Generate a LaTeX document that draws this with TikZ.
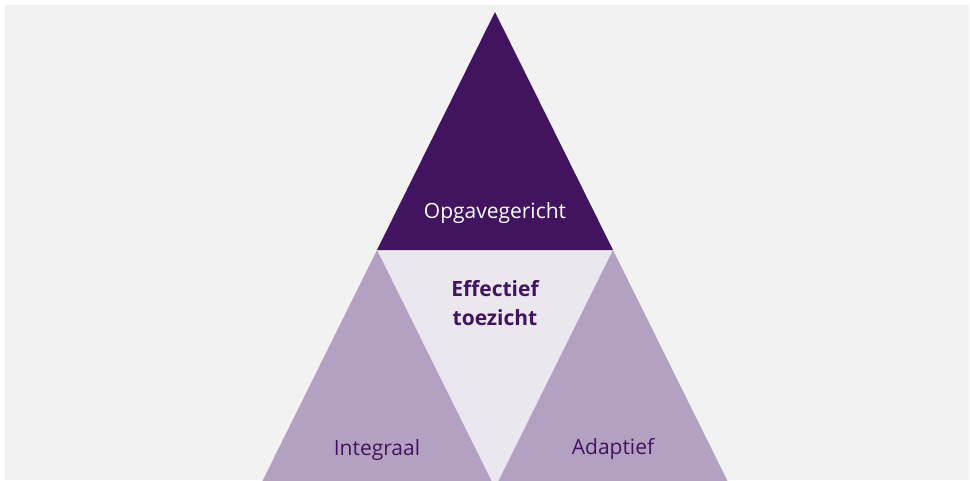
\documentclass[tikz,border=0pt]{standalone}
\usepackage{fontspec}
\setmainfont{Open Sans}
\usepackage{xcolor}
\usepackage{tikz}
\definecolor{rijkViolet}{RGB}{66, 20, 95}
\definecolor{violetLight}{RGB}{179, 161, 194}
\definecolor{violetPale}{RGB}{235, 231, 239}
\definecolor{bgGray}{RGB}{242, 242, 242}

\begin{document}
\begin{tikzpicture}[x=1pt, y=-1pt,
        pillar/.style={font=\fontsize{21}{29}\selectfont, align=center}]
        \useasboundingbox (0,0) rectangle (970,480);
        \fill[white] (0,0) rectangle (970,480);
        \fill[bgGray] (5,5) rectangle (969,480);

        \begin{scope}
        \clip (5,5) rectangle (969,480);
        % Middle triangle
        \fill[violetPale] (377,250) -- (613,250) -- (495,488) -- cycle;
        % Top triangle
        \fill[rijkViolet] (495,12) -- (613,250) -- (377,250) -- cycle;
        % Bottom triangles
        \fill[violetLight] (377,250) -- (495,488) -- (259,488) -- cycle;
        \fill[violetLight] (613,250) -- (731,488) -- (495,488) -- cycle;
        \end{scope}

        % Labels
        \node[pillar, white] (opgave) at (495,213) {Opgavegericht};
        \node[pillar, rijkViolet, font=\fontsize{21}{29}\selectfont\bfseries] (effectief) at (495,303) {Effectief\\toezicht};
        \node[pillar, rijkViolet] (integraal) at (377,450) {Integraal};
        \node[pillar, rijkViolet] (adaptief) at (613,449) {Adaptief};
    \end{tikzpicture}
\end{document}
